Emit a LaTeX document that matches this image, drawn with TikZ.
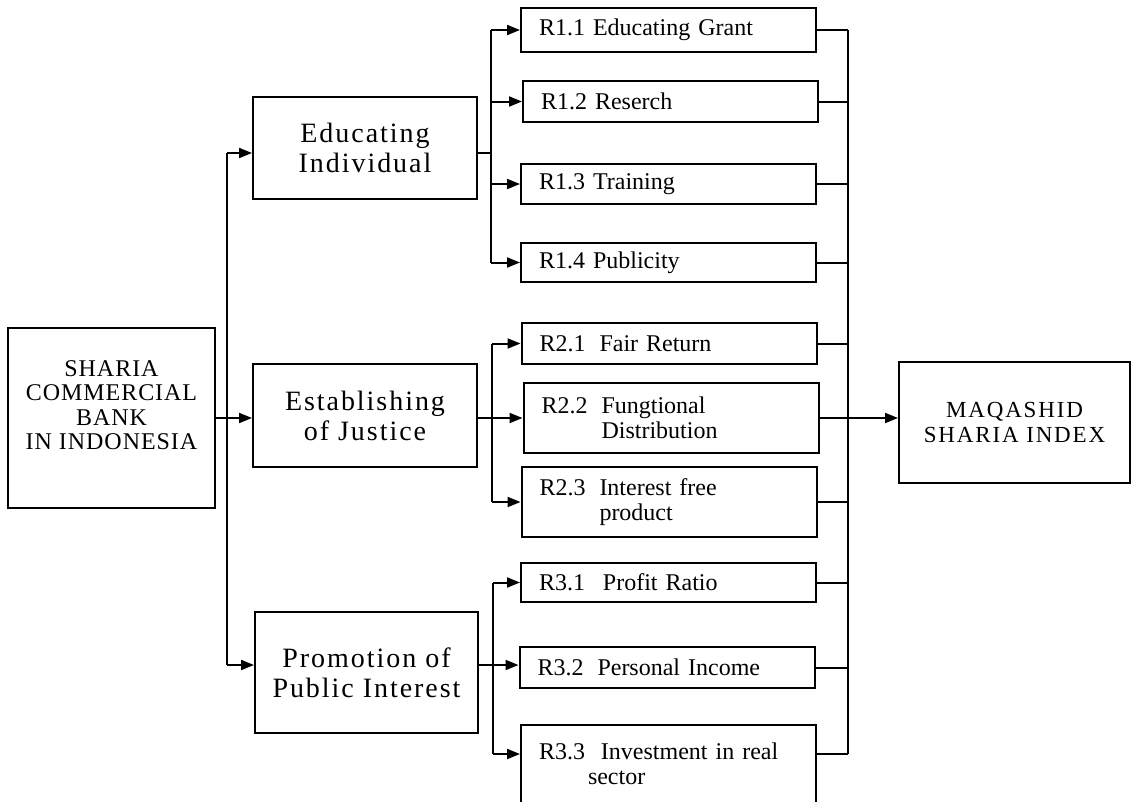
\documentclass[tikz,border=0pt]{standalone}
\usepackage{fontspec}
\setmainfont{Liberation Serif}
\usetikzlibrary{arrows.meta}

\newcommand{\rlabel}[2][60pt]{\makebox[#1][l]{#2}}

\begin{document}
\begin{tikzpicture}[x = 1pt, y = -1pt, line width = 2pt,
		mainbox/.style = {draw, inner sep = 0pt, align = center, font = \fontsize{28}{30}\selectfont\addfontfeature{LetterSpace=7}},
		rbox/.style = {draw, inner xsep = 18pt, inner ysep = 0pt, minimum width = 295pt, text width = 259pt, align = left, font = \fontsize{24}{25}\selectfont},
		arr/.style = {-{Triangle[length = 13pt, width = 10pt]}}]
		
		\useasboundingbox (0, 0) rectangle (1132, 801);
		
		\node[mainbox, minimum width = 207pt, minimum height = 180pt, font = \fontsize{24}{24.5}\selectfont\addfontfeature{LetterSpace=4}] (bank) at (111.5, 418) {SHARIA\\COMMERCIAL\\BANK\\IN INDONESIA\rule[-26pt]{0pt}{26pt}};
		\node[mainbox, minimum width = 224pt, minimum height = 102pt] (edu) at (365, 148) {Educating\\Individual};
		\node[mainbox, minimum width = 224pt, minimum height = 103pt] (just) at (365, 415.5) {Establishing\\of Justice};
		\node[mainbox, minimum width = 223pt, minimum height = 121pt] (pub) at (366.5, 672.5) {Promotion of\\Public Interest};
		\node[mainbox, minimum width = 231pt, minimum height = 121pt, font = \fontsize{23}{25}\selectfont\addfontfeature{LetterSpace=8}] (index) at (1014.5, 422.5) {MAQASHID\\SHARIA INDEX};
		
		\node[rbox, minimum height = 44pt] (r11) at (668.5, 30) {R1.1 Educating Grant};
		\node[rbox, minimum height = 41pt] (r12) at (670.5, 101.5) {R1.2 Reserch};
		\node[rbox, minimum height = 40pt] (r13) at (668.5, 184) {R1.3 Training};
		\node[rbox, minimum height = 39pt] (r14) at (668.5, 262.5) {R1.4 Publicity};
		
		\node[rbox, minimum height = 41pt] (r21) at (669, 343.5) {\rlabel{R2.1}Fair Return};
		\node[rbox, minimum height = 70pt] (r22) at (671, 418) {\rlabel{R2.2}Fungtional\\\rlabel{}Distribution};
		\node[rbox, minimum height = 70pt] (r23) at (669, 502) {\rlabel{R2.3}Interest free\\\rlabel{}product};
		
		\node[rbox, minimum height = 39pt] (r31) at (668.5, 582.5) {\rlabel[64pt]{R3.1}Profit Ratio};
		\node[rbox, minimum height = 41pt] (r32) at (667, 667.5) {\rlabel{R3.2}Personal Income};
		\node[rbox, minimum height = 78pt] (r33) at (668.5, 764) {\rlabel[62pt]{R3.3}Investment in real\\\rlabel[49pt]{}sector};
		
		\coordinate (trunk) at (227, 153);
		\coordinate (b1) at (491, 153);
		\coordinate (b2) at (492, 418);
		\coordinate (b3) at (493, 665);
		\coordinate (col) at (848, 418);
		\coordinate (r33in) at ([yshift = 10pt]r33.west);
		\coordinate (r33out) at ([yshift = 10pt]r33.east);
		
		\draw (trunk) -- (trunk |- b3);
		\draw[arr] (trunk) -- (edu.west |- trunk);
		\draw[arr] (trunk |- b3) -- (pub.west |- b3);
		\draw[arr] (bank.east) -- (just.west |- bank.east);
		
		\draw (edu.east |- b1) -- (b1);
		\draw (b1 |- r11.west) -- (b1 |- r14.west);
		\foreach \rr in {r11, r12, r13, r14}
			\draw[arr] (b1 |- \rr.west) -- (\rr.west);
		
		\draw (b2 |- r21.west) -- (b2 |- r23.west);
		\draw[arr] (just.east |- b2) -- (r22.west);
		\foreach \rr in {r21, r23}
			\draw[arr] (b2 |- \rr.west) -- (\rr.west);
		
		\draw (b3 |- r31.west) -- (b3 |- r33in);
		\draw[arr] (pub.east |- b3) -- (r32.west |- b3);
		\draw[arr] (b3 |- r31.west) -- (r31.west);
		\draw[arr] (b3 |- r33in) -- (r33in);
		
		\draw (col |- r11.east) -- (col |- r33out);
		\foreach \rr in {r11, r12, r13, r14, r21, r23, r31, r32}
			\draw (\rr.east) -- (col |- \rr.east);
		\draw (r33out) -- (col |- r33out);
		\draw[arr] (r22.east) -- (index.west |- r22.east);
	\end{tikzpicture}
\end{document}
